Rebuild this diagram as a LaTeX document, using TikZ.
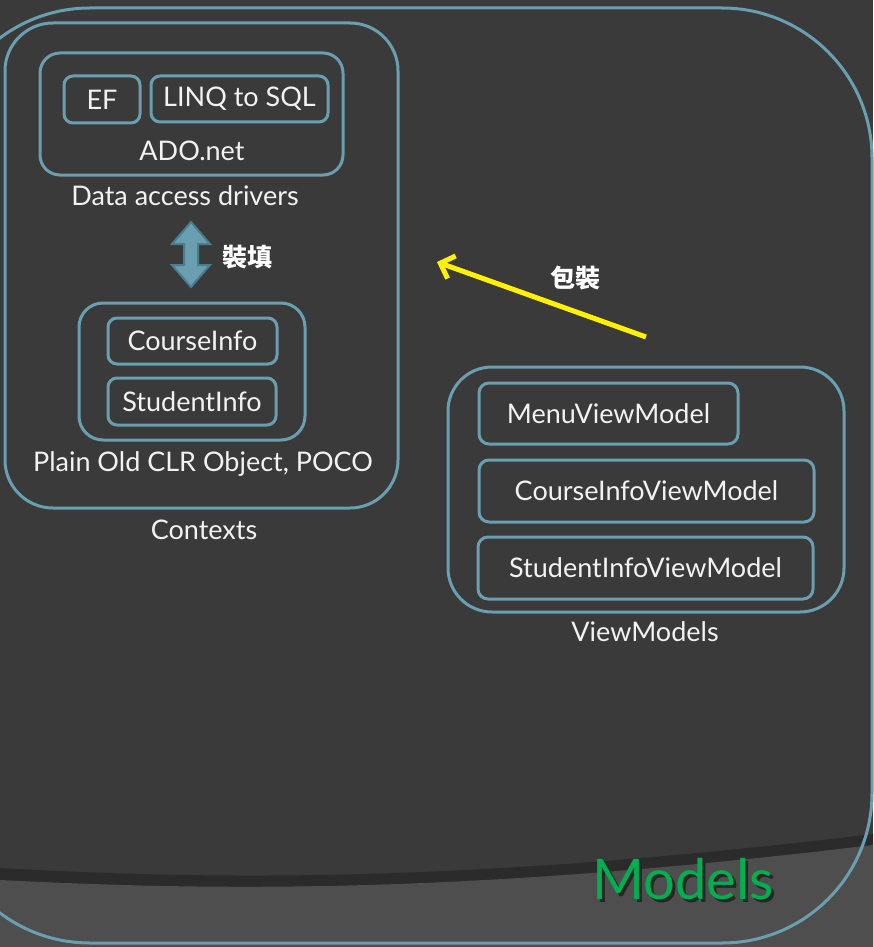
\documentclass[tikz,border=0pt]{standalone}
\usepackage{fontspec}
\setmainfont{Lato}
\newfontfamily\cjk{Noto Sans CJK TC}
\usetikzlibrary{arrows.meta}
\definecolor{bg}{HTML}{3A3A3A}
\definecolor{edge}{HTML}{6A9FB2}
\definecolor{floor}{HTML}{4E4E4E}
\definecolor{band}{HTML}{2B2B2B}
\definecolor{txt}{HTML}{F2F2F2}
\definecolor{mgreen}{HTML}{00B050}
\definecolor{arrowdark}{HTML}{4A7E8E}
\definecolor{arrowfill}{HTML}{6A9FB2}
\begin{document}
\begin{tikzpicture}[x=1pt,y=-1pt,
  box/.style={draw=edge, line width=3pt, rounded corners=#1, inner sep=0pt},
  box/.default=9pt,
  lbl/.style={text=txt, font=\fontsize{27}{27}\selectfont, inner sep=0pt},
  cjklbl/.style={text=white, font=\cjk\bfseries\fontsize{25}{25}\selectfont, inner sep=0pt}]
\useasboundingbox (0,0) rectangle (873,947);
% background
\fill[bg] (0,0) rectangle (873,947);
% dark band and lighter floor
\fill[band] (0,868) .. controls (200,879) and (450,885) .. (873,834) -- (873,947) -- (0,947) -- cycle;
\fill[floor] (0,880) .. controls (200,890) and (450,896) .. (873,845) -- (873,947) -- (0,947) -- cycle;
% outer Models frame
\draw[edge, line width=3pt, rounded corners=150pt] (-60,8) rectangle (872,943);

% Contexts group
\node[box=48pt, minimum width=393pt, minimum height=485pt] (contexts) at (201.5,265.5) {};
\node[box=20pt, minimum width=303pt, minimum height=122pt] (ado) at (191.5,114) {};
\node[box=9pt, minimum width=76pt, minimum height=47pt, lbl] (ef) at (102,99.5) {EF};
\node[box=9pt, minimum width=177pt, minimum height=46pt, lbl] (linq) at (239.5,99) {LINQ to SQL};
\node[lbl] (adolbl) at (192,151) {ADO.net};
\node[lbl] (dad) at (185,196) {Data access drivers};

\node[box=24pt, minimum width=226pt, minimum height=137pt] (poco) at (192,371.5) {};
\node[box=9pt, minimum width=169pt, minimum height=46pt, lbl] (course) at (192.5,341) {CourseInfo};
\node[box=9pt, minimum width=168pt, minimum height=47pt, lbl] (student) at (192,401.5) {StudentInfo};
\node[lbl] (pocolbl) at (203,464) {Plain Old CLR Object, POCO};
\node[lbl] (ctxlbl) at (204,530) {Contexts};

% fill double arrow
\coordinate (dtop) at (191,222);
\coordinate (dbot) at (191,287);
\fill[arrowfill, draw=arrowdark, line width=2pt, line join=miter]
  (dtop) -- ++(19,22) -- ++(-12,0) -- ++(0,21) -- ++(12,0) -- (dbot)
  -- ++(-19,-22) -- ++(12,0) -- ++(0,-21) -- ++(-12,0) -- cycle;
\node[cjklbl, anchor=west] (fill) at (222,257) {裝填};

% ViewModels group
\node[box=44pt, minimum width=396pt, minimum height=245pt] (vms) at (646,489.5) {};
\node[box=10pt, minimum width=259pt, minimum height=61pt, lbl] (menu) at (608.5,413.5) {MenuViewModel};
\node[box=10pt, minimum width=335pt, minimum height=62pt, lbl] (civm) at (646.5,491) {CourseInfoViewModel};
\node[box=10pt, minimum width=335pt, minimum height=62pt, lbl] (sivm) at (645.5,568) {StudentInfoViewModel};
\node[lbl] (vmlbl) at (645,632) {ViewModels};

% wrap arrow
\coordinate (wstart) at (646,337);
\coordinate (wend) at (437,262);
\draw[yellow, line width=5pt, -{Straight Barb[length=12pt, width=24pt, line width=5pt]}] (wstart) -- (wend);
\node[cjklbl] (wrap) at (575,278) {包裝};

% Models title with drop shadow
\node[text=mgreen, font=\fontsize{56}{56}\selectfont, inner sep=0pt] (models) at (683,881)
  {\makebox[0pt][l]{\hspace{3pt}\raisebox{-3pt}{\color{black!85}Models}}Models};
\end{tikzpicture}
\end{document}
